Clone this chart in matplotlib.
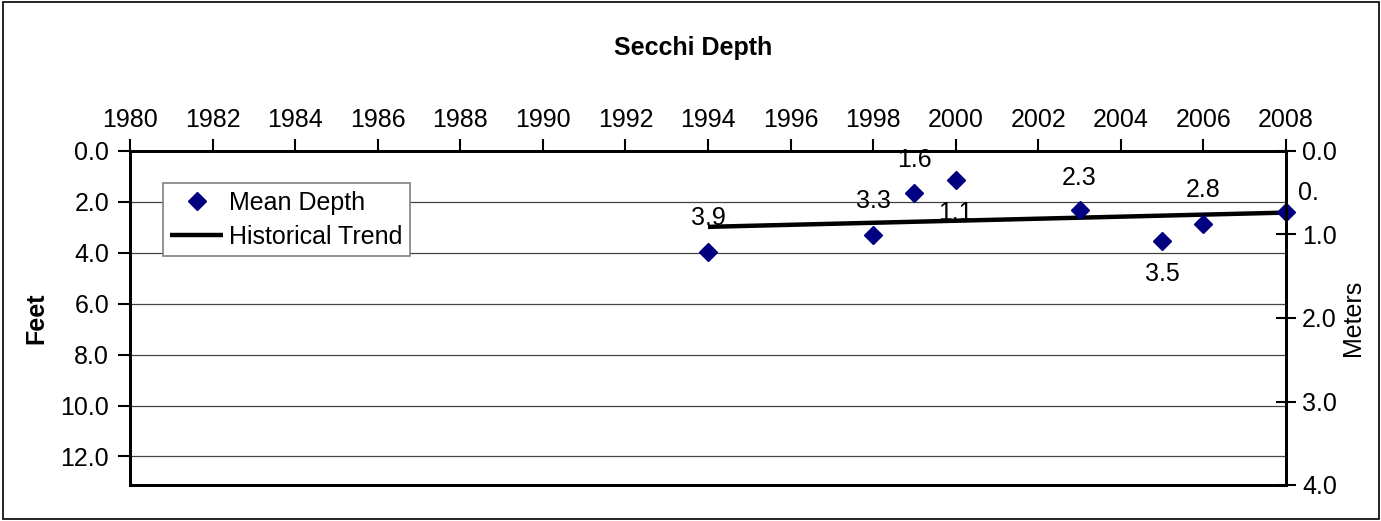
import numpy as np
import matplotlib.pyplot as plt
from matplotlib.patches import Rectangle

plt.rcParams['font.family'] = ['Liberation Sans', 'DejaVu Sans']

# Secchi depth readings (feet)
years = [1994, 1998, 1999, 2000, 2003, 2005, 2006, 2008]
depth_ft = [3.95, 3.3, 1.65, 1.15, 2.3, 3.55, 2.85, 2.4]
labels = ["3.9", "3.3", "1.6", "1.1", "2.3", "3.5", "2.8", "0."]
# label offsets in pixels (dx, dy), the way the original chart placed them
label_off = [(0, 34), (0, 34), (0, 33), (0, -33), (0, 32), (0, -33), (0, 34), (22, 19)]

# historical trend end points
trend_years = [1994, 2008]
trend_ft = [2.98, 2.42]

FT_PER_M = 3.28084
FS = 18

fig = plt.figure(figsize=(13.81, 5.21), dpi=100)
ax = fig.add_axes([130 / 1381, 1 - 485 / 521, 1156 / 1381, 334 / 521])

ax.plot(trend_years, trend_ft, color='black', lw=3.2, label='Historical Trend',
        solid_capstyle='butt', zorder=3)
ax.plot(years, depth_ft, 'D', color='#000080', ms=9, label='Mean Depth',
        clip_on=False, zorder=4)

for x, y, s, (dx, dy) in zip(years, depth_ft, labels, label_off):
    ax.annotate(s, (x, y), xytext=(dx, dy), textcoords='offset pixels',
                ha='center', va='center', fontsize=FS, annotation_clip=False)

ax.set_xlim(1980, 2008)
ax.set_xticks(np.arange(1980, 2009, 2))
ax.set_ylim(4 * FT_PER_M, 0)
ax.set_yticks(np.arange(0, 13, 2))
ax.yaxis.set_major_formatter(plt.FormatStrFormatter('%.1f'))
ax.xaxis.tick_top()
ax.tick_params(axis='x', direction='out', length=9, width=1.5, labelsize=FS, pad=5)
ax.tick_params(axis='y', direction='out', length=9, width=1.5, labelsize=FS, pad=6)
ax.grid(axis='y', color='#444444', lw=0.9)
ax.set_axisbelow(True)
for sp in ax.spines.values():
    sp.set_linewidth(2)
ax.set_ylabel('Feet', fontsize=FS, fontweight='bold', labelpad=9)

ax2 = ax.twinx()
ax2.set_ylim(4, 0)
ax2.set_yticks([0, 1, 2, 3, 4])
ax2.yaxis.set_major_formatter(plt.FormatStrFormatter('%.1f'))
ax2.tick_params(axis='y', direction='inout', length=15, width=1.5, labelsize=FS, pad=4)
for sp in ax2.spines.values():
    sp.set_linewidth(2)
fig.text(1353 / 1381, 1 - 318 / 521, 'Meters', rotation=90, ha='center', va='center',
         fontsize=FS)

h, l = ax.get_legend_handles_labels()
leg = ax.legend(h[::-1], l[::-1], loc='upper left', bbox_to_anchor=(0.0285, 0.904),
                borderaxespad=0, fontsize=FS, fancybox=False, framealpha=1,
                edgecolor='#808080', handlelength=2.1, handletextpad=0.25,
                borderpad=0.3, labelspacing=0.4)
leg.get_frame().set_linewidth(1.2)
leg.set_zorder(5)

fig.text(693 / 1381, 1 - 48 / 521, 'Secchi Depth', ha='center', va='center',
         fontsize=FS, fontweight='bold')

fig.patches.append(Rectangle((3 / 1381, 2 / 521), 1376 / 1381, 517 / 521,
                             transform=fig.transFigure, fill=False,
                             edgecolor='black', lw=1.2))

fig.savefig('out.png', dpi=100)
